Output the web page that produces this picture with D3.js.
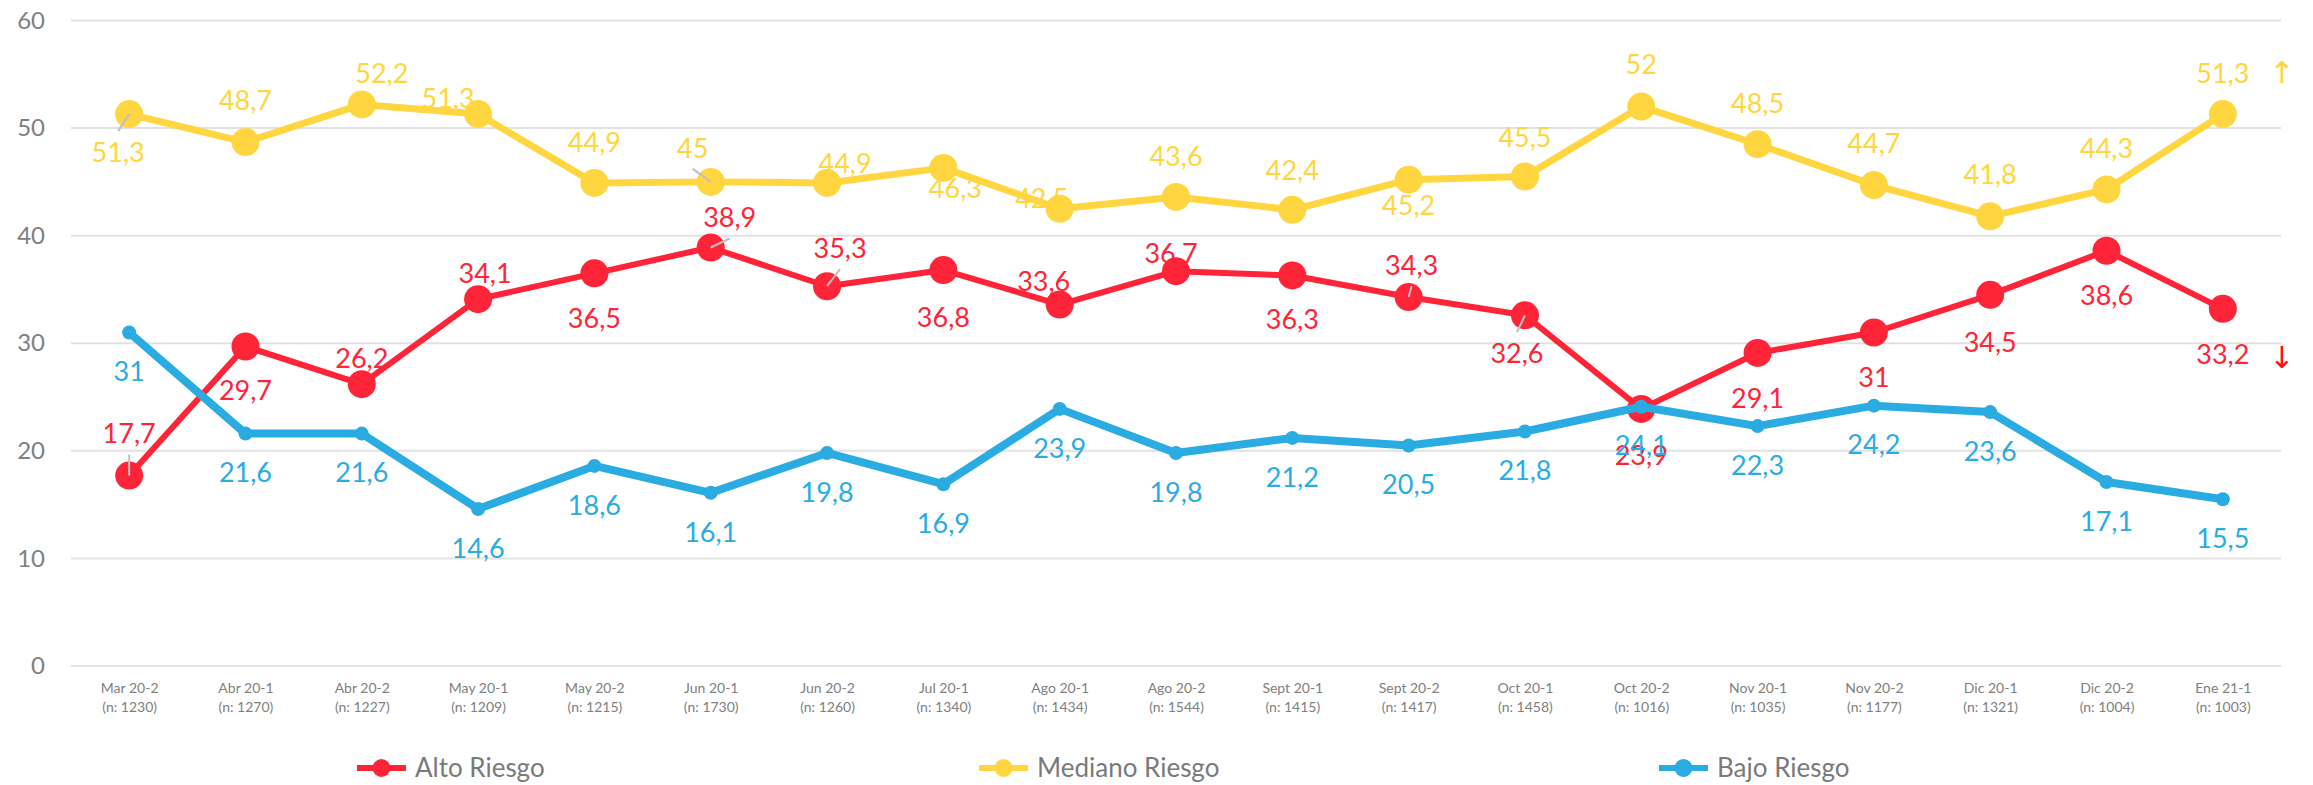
<!DOCTYPE html>
<html>
<head>
<meta charset="utf-8">
<script src="https://cdn.jsdelivr.net/npm/d3@7"></script>
<style>
  html, body { margin: 0; padding: 0; background: #ffffff; }
  svg { display: block; font-family: "Lato", "Open Sans", "DejaVu Sans", sans-serif; }
</style>
</head>
<body>
<svg id="chart" width="2313" height="785"></svg>
<script>
// Survey waves and sample sizes
const periods = ["Mar 20-2", "Abr 20-1", "Abr 20-2", "May 20-1", "May 20-2", "Jun 20-1", "Jun 20-2",
  "Jul 20-1", "Ago 20-1", "Ago 20-2", "Sept 20-1", "Sept 20-2", "Oct 20-1", "Oct 20-2",
  "Nov 20-1", "Nov 20-2", "Dic 20-1", "Dic 20-2", "Ene 21-1"];
const sampleSizes = [1230, 1270, 1227, 1209, 1215, 1730, 1260, 1340, 1434, 1544, 1415, 1417,
  1458, 1016, 1035, 1177, 1321, 1004, 1003];

// Share of respondents per risk level (%)
const altoRiesgo = [17.7, 29.7, 26.2, 34.1, 36.5, 38.9, 35.3, 36.8, 33.6, 36.7, 36.3, 34.3,
  32.6, 23.9, 29.1, 31, 34.5, 38.6, 33.2];
const medianoRiesgo = [51.3, 48.7, 52.2, 51.3, 44.9, 45, 44.9, 46.3, 42.5, 43.6, 42.4, 45.2,
  45.5, 52, 48.5, 44.7, 41.8, 44.3, 51.3];
const bajoRiesgo = [31, 21.6, 21.6, 14.6, 18.6, 16.1, 19.8, 16.9, 23.9, 19.8, 21.2, 20.5,
  21.8, 24.1, 22.3, 24.2, 23.6, 17.1, 15.5];

const yTicks = [0, 10, 20, 30, 40, 50, 60];

// Data label placement: [dx, dy] from each marker centre
const altoLabelOffsets = [[0,-42],[0,44],[0,-26],[7,-26],[0,45],[19,-30],[13,-38],[0,47],[-16,-23],
  [-5,-18],[0,44],[3,-32],[-8,38],[0,46],[0,45],[0,45],[0,47],[0,45],[0,45]];
const medianoLabelOffsets = [[-11,38],[0,-42],[20,-31],[-30,-16],[0,-41],[-18,-34],[18,-20],[12,20],
  [-18,-10],[0,-41],[0,-40],[0,26],[0,-39],[0,-42],[0,-41],[0,-42],[0,-42],[0,-41],[0,-41]];
const bajoLabelOffsets = periods.map(() => [0, 39]);
// Labels moved away from their marker get a small leader line
const altoLeaders = [0, 5, 6, 11, 12];
const medianoLeaders = [0, 5];

const series = [
  { name: "Alto Riesgo", values: altoRiesgo, color: "#FF2437", width: 6, r: 14,
    offsets: altoLabelOffsets, leaders: altoLeaders },
  { name: "Mediano Riesgo", values: medianoRiesgo, color: "#FFD640", width: 7, r: 14,
    offsets: medianoLabelOffsets, leaders: medianoLeaders },
  { name: "Bajo Riesgo", values: bajoRiesgo, color: "#2AABE2", width: 8, r: 7,
    offsets: bajoLabelOffsets, leaders: [] }
];

const svg = d3.select("#chart");
const x = d3.scalePoint().domain(periods).range([71, 2281]).padding(0.5);
const y = d3.scaleLinear().domain([0, 60]).range([666, 20.5]);

// Horizontal gridlines
svg.append("g").selectAll("line").data(yTicks).join("line")
  .attr("x1", 71).attr("x2", 2281)
  .attr("y1", d => y(d)).attr("y2", d => y(d))
  .attr("stroke", "#e2e2e2").attr("stroke-width", 2);

// Y axis labels
const yAxis = svg.append("g").attr("transform", "translate(45,0)")
  .call(d3.axisLeft(y).tickValues(yTicks).tickSize(0).tickPadding(0).tickFormat(d3.format("d")));
yAxis.select(".domain").remove();
yAxis.selectAll("text").attr("fill", "#808080").attr("font-size", 24)
  .attr("font-family", "Lato, 'Open Sans', sans-serif");

// X axis labels (period + sample size)
const xAxis = svg.append("g").attr("transform", "translate(0,666)")
  .call(d3.axisBottom(x).tickSize(0).tickPadding(0).tickFormat(() => ""));
xAxis.select(".domain").remove();
xAxis.selectAll(".tick text").remove();
xAxis.selectAll(".tick").each(function (d, i) {
  const t = d3.select(this).append("text")
    .attr("fill", "#808080").attr("font-size", 14).attr("text-anchor", "middle")
    .attr("font-family", "Lato, 'Open Sans', sans-serif");
  t.append("tspan").attr("x", 0).attr("y", 27).text(d);
  t.append("tspan").attr("x", 0).attr("y", 46).text(`(n: ${sampleSizes[i]})`);
});

// Lines and markers
const line = d3.line().x((d, i) => x(periods[i])).y(d => y(d));
series.forEach(s => {
  const g = svg.append("g");
  g.append("path").datum(s.values)
    .attr("d", line).attr("fill", "none")
    .attr("stroke", s.color).attr("stroke-width", s.width)
    .attr("stroke-linejoin", "round");
  g.selectAll("circle").data(s.values).join("circle")
    .attr("cx", (d, i) => x(periods[i])).attr("cy", d => y(d))
    .attr("r", s.r).attr("fill", s.color);
});

// Data labels
const fmt = v => String(v).replace(".", ",");
series.forEach(s => {
  const g = svg.append("g");
  s.leaders.forEach(i => {
    const px = x(periods[i]), py = y(s.values[i]);
    const [dx, dy] = s.offsets[i];
    const lx = px + dx, ly = py + dy + (dy < 0 ? 21 : -21);
    g.append("line").attr("x1", lx).attr("y1", ly).attr("x2", px).attr("y2", py)
      .attr("stroke", "#bfbfbf").attr("stroke-width", 2);
  });
  g.selectAll("text").data(s.values).join("text")
    .attr("x", (d, i) => x(periods[i]) + s.offsets[i][0])
    .attr("y", (d, i) => y(d) + s.offsets[i][1])
    .attr("dy", "0.36em")
    .attr("text-anchor", "middle")
    .attr("font-size", 27)
    .attr("fill", s.color)
    .text(fmt);
});

// Trend arrows for the latest wave
const last = periods[periods.length - 1];
svg.append("text").attr("x", x(last) + 59).attr("y", y(medianoRiesgo[18]) - 42).attr("dy", "0.36em")
  .attr("text-anchor", "middle").attr("font-size", 30).attr("fill", "#FFD43B")
  .attr("font-family", "'DejaVu Sans', sans-serif").text("↑");
svg.append("text").attr("x", x(last) + 59).attr("y", y(altoRiesgo[18]) + 48).attr("dy", "0.36em")
  .attr("text-anchor", "middle").attr("font-size", 30).attr("fill", "#FF1010")
  .attr("font-family", "'DejaVu Sans', sans-serif").text("↓");

// Legend
const legendItems = [
  { s: series[0], x: 357 },
  { s: series[1], x: 979 },
  { s: series[2], x: 1659 }
];
const legend = svg.append("g").attr("transform", "translate(0,768)");
legendItems.forEach(item => {
  const g = legend.append("g").attr("transform", `translate(${item.x},0)`);
  g.append("line").attr("x1", 0).attr("x2", 49).attr("y1", 0).attr("y2", 0)
    .attr("stroke", item.s.color).attr("stroke-width", 6);
  g.append("circle").attr("cx", 24.5).attr("cy", 0).attr("r", 9).attr("fill", item.s.color);
  g.append("text").attr("x", 58).attr("y", 0).attr("dy", "0.36em")
    .attr("font-size", 26).attr("fill", "#7a7a7a").text(item.s.name);
});
</script>
</body>
</html>
